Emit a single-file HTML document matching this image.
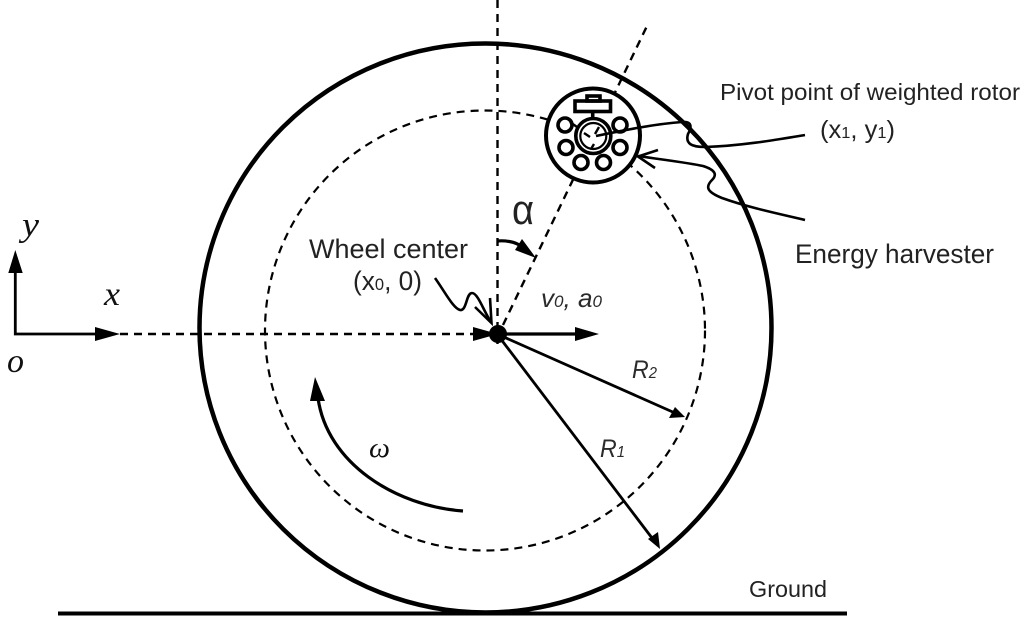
<!DOCTYPE html>
<html><head><meta charset="utf-8"><style>
html,body{margin:0;padding:0;background:#fff}
svg{display:block}
.s{font-family:"Liberation Sans",sans-serif;fill:#222}
.i{font-family:"Liberation Sans",sans-serif;font-style:italic;fill:#2b2b2b}
.t{font-family:"Liberation Serif",serif;font-style:italic;fill:#111}
</style></head><body>
<svg width="1024" height="621" viewBox="0 0 1024 621" xmlns="http://www.w3.org/2000/svg">
<rect width="1024" height="621" fill="#fff"/>
<line x1="58" y1="613.5" x2="847" y2="613.5" stroke="#000" stroke-width="4"/>
<ellipse cx="485.5" cy="328" rx="286" ry="284.5" fill="none" stroke="#000" stroke-width="4.5"/>
<circle cx="485" cy="330.5" r="220" fill="none" stroke="#000" stroke-width="2.2" stroke-dasharray="8 6"/>
<g fill="none" stroke="#000" stroke-width="2.4" stroke-dasharray="8 6">
<line x1="497.5" y1="0" x2="497.5" y2="350"/>
<line x1="503" y1="325" x2="647" y2="26"/>
<line x1="120" y1="334" x2="497" y2="334"/>
</g>
<!-- axes -->
<g fill="none" stroke="#000" stroke-width="2.8">
<path d="M15.3 270V334H96"/>
<line x1="497" y1="334" x2="578" y2="334" stroke-width="3.2"/>
<line x1="497" y1="334" x2="675" y2="413"/>
<line x1="497" y1="334" x2="652" y2="538"/>
<path d="M463 511C395 506 327 463 318 398" stroke-width="3.2"/>
<path d="M497 241C510 240 519 243 526 250" stroke-width="3.2"/>
</g>
<g fill="#000">
<path d="M15.3 250L22.7 273H8.3Z"/>
<path d="M120 334L95 341V327Z"/>
<path d="M498 334L473 341V327Z"/>
<path d="M599 334L575 341V327Z"/>
<path d="M685 417L669 418L675 407Z"/>
<path d="M660 549L648 539L658 532Z"/>
<path d="M315 377L325 401H310Z"/>
<path d="M536 258L515 250L522 239Z"/>
<circle cx="498" cy="334" r="9"/>
</g>
<!-- harvester -->
<circle cx="593" cy="135.5" r="47" fill="#fff" stroke="#000" stroke-width="4"/>
<g fill="none" stroke="#000" stroke-width="3.6">
<rect x="575" y="101" width="35.5" height="10.5"/>
<rect x="587" y="96" width="13" height="5"/>
<path d="M592.7 111.5V120"/>
<circle cx="593.3" cy="136" r="17.5"/>
<circle cx="593.3" cy="136" r="13" stroke-width="2.2"/>
<circle cx="565" cy="125" r="7"/>
<circle cx="620" cy="125" r="7"/>
<circle cx="566" cy="147.5" r="7"/>
<circle cx="620" cy="147.5" r="7"/>
<circle cx="581" cy="162.5" r="7"/>
<circle cx="603.5" cy="162.5" r="7"/>
<path d="M570 122L577 127M584 133L590 137M599 127L595 134M594 144L591 149" stroke-width="2.4"/>
</g>
<!-- leaders -->
<g fill="none" stroke="#000" stroke-width="2.6">
<path d="M596 136C625 130 655 124 682 122C692 121 692 127 688 134C685 144 692 147 705 147C740 146 775 140 805 135"/>
<path d="M638 156C665 160 690 163 703 166C716 170 717 175 712 180C705 187 707 192 722 198C750 208 780 214 805 220"/>
<path d="M658 150L638 156.5L655 168"/>
<path d="M435 278C445 292 453 308 460 310C467 311 466 293 472 293C478 293 484 312 491 322"/>
<path d="M490 298L491.5 323L475 307"/>
</g>
<!-- text -->
<text class="s" x="720" y="100" font-size="23" textLength="300" lengthAdjust="spacingAndGlyphs">Pivot point of weighted rotor</text>
<text class="s" x="820" y="138" font-size="25" textLength="75" lengthAdjust="spacingAndGlyphs">(x<tspan font-size="16">1</tspan>, y<tspan font-size="16">1</tspan>)</text>
<text class="s" x="795" y="263" font-size="27" textLength="199" lengthAdjust="spacingAndGlyphs">Energy harvester</text>
<text class="s" x="309" y="258" font-size="27" textLength="159" lengthAdjust="spacingAndGlyphs">Wheel center</text>
<text class="s" x="353" y="290" font-size="27" textLength="69" lengthAdjust="spacingAndGlyphs">(x<tspan font-size="17">0</tspan>, 0)</text>
<text class="s" x="512" y="224" font-size="42" textLength="22" lengthAdjust="spacingAndGlyphs">α</text>
<text class="i" x="541" y="307" font-size="26" textLength="61" lengthAdjust="spacingAndGlyphs">v<tspan font-size="17">0</tspan>, a<tspan font-size="17">0</tspan></text>
<text class="i" x="632" y="378" font-size="25" textLength="25" lengthAdjust="spacingAndGlyphs">R<tspan font-size="16">2</tspan></text>
<text class="i" x="600" y="457" font-size="25" textLength="25" lengthAdjust="spacingAndGlyphs">R<tspan font-size="16">1</tspan></text>
<text class="t" x="369" y="457" font-size="28" textLength="21" lengthAdjust="spacingAndGlyphs">ω</text>
<text class="t" x="104" y="305" font-size="34" textLength="16" lengthAdjust="spacingAndGlyphs">x</text>
<text class="t" x="22" y="236" font-size="34" textLength="17" lengthAdjust="spacingAndGlyphs">y</text>
<text class="t" x="7" y="372" font-size="34" textLength="17" lengthAdjust="spacingAndGlyphs">o</text>
<text class="s" x="749" y="597" font-size="23" textLength="78" lengthAdjust="spacingAndGlyphs">Ground</text>
</svg>
</body></html>
